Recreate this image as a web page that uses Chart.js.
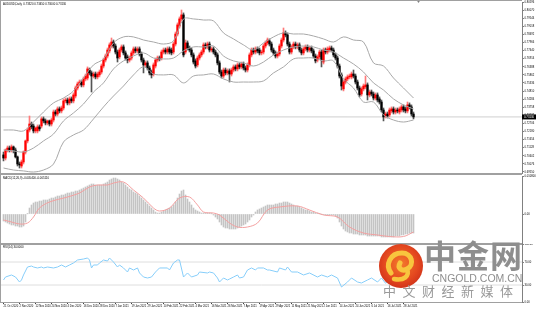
<!DOCTYPE html>
<html>
<head>
<meta charset="utf-8">
<script src="https://cdn.jsdelivr.net/npm/chart.js@4.4.1/dist/chart.umd.min.js"></script>
<style>
  html, body { margin:0; padding:0; background:#fff; }
  #wrap { position:relative; width:536px; height:309px; overflow:hidden; background:#fff; }
  #wrap canvas { position:absolute; left:0; }
  .ln { position:absolute; background:#a0a0a0; }
  .wm { position:absolute; white-space:nowrap; line-height:1; }
</style>
</head>
<body>
<div id="wrap">
  <canvas id="cMain" width="536" height="174" style="top:0;width:536px;height:174px"></canvas>
  <canvas id="cMacd" width="536" height="70" style="top:174px;width:536px;height:70px"></canvas>
  <canvas id="cRsi" width="536" height="65" style="top:244px;width:536px;height:65px"></canvas>
  <div class="ln" style="left:0;top:0;width:522px;height:1px"></div>
  <div class="ln" style="left:0;top:0;width:1px;height:303px"></div>
  <div class="ln" style="left:0;top:173px;width:522px;height:2px"></div>
  <div class="ln" style="left:0;top:243px;width:522px;height:2px"></div>
  <div class="ln" style="left:0;top:302px;width:522px;height:1px"></div>
  <svg style="position:absolute;left:377px;top:242px" width="48" height="48" viewBox="0 0 48 48">
    <defs>
      <radialGradient id="g1" cx="50%" cy="45%" r="55%">
        <stop offset="0%" stop-color="#f47a2c"/>
        <stop offset="70%" stop-color="#e4481f"/>
        <stop offset="100%" stop-color="#d2341a"/>
      </radialGradient>
    </defs>
    <circle cx="24" cy="24" r="22" fill="url(#g1)"/>
    <path d="M14 31 C 8 23, 13 11, 25 11 C 35 11, 38 23, 30 27 C 25 30, 20 26, 23 21" stroke="#f8c53e" stroke-width="5" fill="none" stroke-linecap="round"/>
    <path d="M30 27 C 33 34, 27 39, 17 37" stroke="#f8c53e" stroke-width="4.5" fill="none" stroke-linecap="round"/>
  </svg>
  <div class="wm" style="left:424px;top:238px;font-family:'Noto Sans CJK SC';font-weight:bold;font-size:32px;color:#8e8e8e;letter-spacing:1px">中金网</div>
  <div class="wm" style="left:432px;top:273px;font-family:'Liberation Sans';font-size:10.5px;color:#8e8e8e">CNGOLD.COM.CN</div>
  <div class="wm" style="left:383px;top:284px;font-family:'Noto Sans CJK SC';font-size:13px;color:#9a9a9a;letter-spacing:6.5px">中文财经新媒体</div>
</div>
<script>
// ---------- data ----------
const dateLabels = ["21 Oct 2020","2 Nov 2020","12 Nov 2020","24 Nov 2020","4 Dec 2020","16 Dec 2020","28 Dec 2020","7 Jan 2021","19 Jan 2021","29 Jan 2021","10 Feb 2021","22 Feb 2021","4 Mar 2021","16 Mar 2021","26 Mar 2021","7 Apr 2021","19 Apr 2021","29 Apr 2021","11 May 2021","21 May 2021","2 Jun 2021","14 Jun 2021","24 Jun 2021","6 Jul 2021","16 Jul 2021","28 Jul 2021"];

const openP = [0.7066,0.7046,0.7098,0.7111,0.7098,0.7118,0.7098,0.7053,0.7007,0.6994,
0.7020,0.7085,0.7157,0.7228,0.7267,0.7254,0.7222,0.7222,0.7248,0.7254,
0.7300,0.7287,0.7274,0.7287,0.7267,0.7293,0.7345,0.7332,0.7365,0.7352,
0.7371,0.7417,0.7423,0.7404,0.7430,0.7417,0.7449,0.7501,0.7527,0.7540,
0.7521,0.7560,0.7566,0.7618,0.7599,0.7579,0.7592,0.7573,0.7586,0.7605,
0.7644,0.7683,0.7709,0.7742,0.7774,0.7800,0.7774,0.7735,0.7703,0.7748,
0.7768,0.7729,0.7703,0.7683,0.7696,0.7729,0.7755,0.7742,0.7755,0.7722,
0.7683,0.7651,0.7664,0.7631,0.7605,0.7592,0.7644,0.7683,0.7696,0.7696,
0.7735,0.7748,0.7735,0.7755,0.7748,0.7735,0.7787,0.7852,0.7904,0.7950,
0.7976,0.7735,0.7794,0.7761,0.7748,0.7716,0.7677,0.7651,0.7696,0.7716,
0.7735,0.7781,0.7768,0.7787,0.7748,0.7755,0.7735,0.7716,0.7664,0.7605,
0.7579,0.7618,0.7599,0.7612,0.7592,0.7618,0.7638,0.7625,0.7651,0.7638,
0.7657,0.7631,0.7618,0.7651,0.7716,0.7748,0.7735,0.7755,0.7748,0.7729,
0.7735,0.7774,0.7794,0.7807,0.7787,0.7748,0.7729,0.7709,0.7722,0.7774,
0.7813,0.7859,0.7846,0.7787,0.7735,0.7768,0.7787,0.7768,0.7781,0.7748,
0.7729,0.7755,0.7768,0.7748,0.7761,0.7742,0.7709,0.7683,0.7703,0.7735,
0.7670,0.7748,0.7735,0.7748,0.7761,0.7748,0.7716,0.7696,0.7644,0.7586,
0.7495,0.7540,0.7560,0.7573,0.7573,0.7592,0.7579,0.7540,0.7501,0.7462,
0.7495,0.7508,0.7521,0.7456,0.7475,0.7462,0.7436,0.7456,0.7430,0.7410,
0.7358,0.7319,0.7332,0.7326,0.7352,0.7365,0.7345,0.7358,0.7345,0.7358,
0.7378,0.7365,0.7352,0.7391,0.7378,0.7332];

const highP = [0.7085,0.7105,0.7124,0.7124,0.7131,0.7124,0.7111,0.7059,0.7020,0.7033,
0.7092,0.7163,0.7241,0.7319,0.7280,0.7267,0.7248,0.7261,0.7261,0.7313,
0.7313,0.7300,0.7293,0.7293,0.7306,0.7358,0.7358,0.7378,0.7378,0.7384,
0.7430,0.7436,0.7436,0.7443,0.7443,0.7469,0.7514,0.7540,0.7553,0.7553,
0.7573,0.7592,0.7638,0.7631,0.7612,0.7605,0.7605,0.7605,0.7618,0.7657,
0.7696,0.7722,0.7761,0.7794,0.7826,0.7813,0.7787,0.7748,0.7761,0.7781,
0.7781,0.7742,0.7716,0.7709,0.7742,0.7768,0.7768,0.7768,0.7768,0.7735,
0.7696,0.7677,0.7677,0.7644,0.7618,0.7664,0.7696,0.7709,0.7709,0.7748,
0.7761,0.7761,0.7768,0.7768,0.7761,0.7800,0.7865,0.7924,0.7963,0.8008,
0.7989,0.7813,0.7807,0.7774,0.7761,0.7729,0.7690,0.7709,0.7729,0.7748,
0.7794,0.7794,0.7800,0.7800,0.7768,0.7768,0.7748,0.7729,0.7677,0.7618,
0.7631,0.7631,0.7625,0.7625,0.7631,0.7651,0.7651,0.7664,0.7664,0.7670,
0.7670,0.7644,0.7664,0.7729,0.7761,0.7761,0.7768,0.7768,0.7761,0.7748,
0.7787,0.7807,0.7826,0.7820,0.7800,0.7761,0.7742,0.7735,0.7787,0.7826,
0.7891,0.7872,0.7859,0.7800,0.7781,0.7800,0.7800,0.7794,0.7794,0.7761,
0.7768,0.7781,0.7781,0.7774,0.7774,0.7755,0.7722,0.7716,0.7748,0.7748,
0.7761,0.7761,0.7768,0.7774,0.7774,0.7761,0.7729,0.7709,0.7657,0.7599,
0.7553,0.7573,0.7586,0.7592,0.7605,0.7618,0.7592,0.7553,0.7514,0.7508,
0.7527,0.7579,0.7534,0.7488,0.7488,0.7475,0.7469,0.7469,0.7443,0.7423,
0.7371,0.7345,0.7345,0.7371,0.7378,0.7378,0.7371,0.7371,0.7378,0.7391,
0.7391,0.7378,0.7410,0.7404,0.7391,0.7345];

const lowP = [0.7027,0.7033,0.7085,0.7085,0.7085,0.7079,0.7046,0.6994,0.6981,0.6981,
0.7007,0.7072,0.7144,0.7215,0.7235,0.7209,0.7209,0.7209,0.7222,0.7241,
0.7274,0.7261,0.7261,0.7254,0.7254,0.7280,0.7319,0.7319,0.7339,0.7339,
0.7358,0.7404,0.7391,0.7391,0.7404,0.7404,0.7436,0.7488,0.7514,0.7508,
0.7508,0.7547,0.7553,0.7586,0.7475,0.7566,0.7560,0.7560,0.7573,0.7592,
0.7631,0.7670,0.7696,0.7729,0.7761,0.7761,0.7722,0.7670,0.7690,0.7735,
0.7716,0.7683,0.7664,0.7670,0.7683,0.7716,0.7729,0.7729,0.7709,0.7670,
0.7599,0.7638,0.7618,0.7586,0.7566,0.7579,0.7631,0.7670,0.7677,0.7683,
0.7722,0.7722,0.7722,0.7722,0.7716,0.7722,0.7774,0.7839,0.7891,0.7937,
0.7703,0.7722,0.7748,0.7735,0.7703,0.7657,0.7631,0.7638,0.7683,0.7703,
0.7722,0.7755,0.7755,0.7735,0.7735,0.7722,0.7703,0.7651,0.7592,0.7566,
0.7566,0.7586,0.7586,0.7540,0.7579,0.7605,0.7612,0.7612,0.7625,0.7625,
0.7618,0.7605,0.7605,0.7638,0.7703,0.7722,0.7722,0.7729,0.7716,0.7716,
0.7722,0.7761,0.7781,0.7774,0.7735,0.7716,0.7696,0.7696,0.7709,0.7761,
0.7800,0.7833,0.7774,0.7722,0.7722,0.7755,0.7755,0.7755,0.7735,0.7716,
0.7716,0.7742,0.7735,0.7735,0.7729,0.7696,0.7664,0.7670,0.7690,0.7638,
0.7657,0.7722,0.7722,0.7735,0.7735,0.7703,0.7683,0.7631,0.7566,0.7488,
0.7482,0.7527,0.7547,0.7560,0.7560,0.7566,0.7527,0.7488,0.7443,0.7449,
0.7482,0.7495,0.7423,0.7443,0.7449,0.7423,0.7423,0.7410,0.7397,0.7345,
0.7287,0.7306,0.7306,0.7313,0.7339,0.7332,0.7332,0.7339,0.7332,0.7345,
0.7345,0.7339,0.7339,0.7365,0.7319,0.7300];

const closeP = [0.7046,0.7098,0.7111,0.7098,0.7118,0.7098,0.7053,0.7007,0.7001,0.7020,
0.7085,0.7157,0.7228,0.7267,0.7248,0.7222,0.7241,0.7248,0.7235,0.7300,
0.7287,0.7274,0.7287,0.7267,0.7293,0.7345,0.7332,0.7365,0.7352,0.7371,
0.7417,0.7423,0.7404,0.7430,0.7417,0.7456,0.7501,0.7527,0.7540,0.7521,
0.7560,0.7579,0.7625,0.7599,0.7579,0.7592,0.7573,0.7592,0.7605,0.7644,
0.7683,0.7709,0.7748,0.7781,0.7800,0.7774,0.7735,0.7696,0.7748,0.7768,
0.7729,0.7696,0.7683,0.7696,0.7729,0.7755,0.7742,0.7755,0.7722,0.7683,
0.7651,0.7664,0.7631,0.7599,0.7586,0.7651,0.7683,0.7696,0.7690,0.7735,
0.7748,0.7735,0.7755,0.7735,0.7729,0.7787,0.7852,0.7911,0.7950,0.7976,
0.7716,0.7794,0.7761,0.7748,0.7716,0.7670,0.7644,0.7696,0.7716,0.7735,
0.7781,0.7768,0.7787,0.7748,0.7755,0.7735,0.7716,0.7664,0.7605,0.7579,
0.7618,0.7599,0.7612,0.7592,0.7618,0.7638,0.7625,0.7651,0.7638,0.7657,
0.7631,0.7618,0.7651,0.7716,0.7748,0.7735,0.7755,0.7742,0.7729,0.7735,
0.7774,0.7794,0.7813,0.7787,0.7748,0.7729,0.7709,0.7722,0.7774,0.7813,
0.7859,0.7846,0.7787,0.7735,0.7768,0.7787,0.7768,0.7781,0.7748,0.7729,
0.7755,0.7768,0.7748,0.7761,0.7742,0.7709,0.7677,0.7703,0.7735,0.7683,
0.7748,0.7735,0.7755,0.7761,0.7748,0.7716,0.7696,0.7644,0.7579,0.7514,
0.7540,0.7560,0.7573,0.7579,0.7592,0.7579,0.7540,0.7501,0.7456,0.7495,
0.7514,0.7521,0.7456,0.7475,0.7462,0.7436,0.7456,0.7423,0.7410,0.7358,
0.7313,0.7332,0.7319,0.7358,0.7365,0.7345,0.7358,0.7352,0.7365,0.7378,
0.7358,0.7352,0.7391,0.7378,0.7332,0.7313];

// Bollinger bands (20,2) read every 5 bars
const bandIdx = [0,5,10,15,20,25,30,35,40,45,50,55,60,65,70,75,80,85,90,95,100,105,110,115,120,125,130,135,140,145,150,155,160,165,170,175,180,185,190,195,200,205];
const bbUpper = [0.7228,0.7228,0.7222,0.7280,0.7345,0.7404,0.7436,0.7482,0.7566,0.7651,0.7690,0.7794,0.7833,0.7833,0.7813,0.7800,0.7787,0.7807,0.7950,0.7950,0.7943,0.7937,0.7859,0.7820,0.7781,0.7748,0.7794,0.7833,0.7859,0.7852,0.7852,0.7839,0.7820,0.7800,0.7833,0.7813,0.7800,0.7664,0.7644,0.7566,0.7501,0.7436];
const bbMiddle = [0.7098,0.7092,0.7085,0.7111,0.7157,0.7202,0.7287,0.7339,0.7397,0.7475,0.7534,0.7625,0.7677,0.7709,0.7729,0.7696,0.7690,0.7696,0.7742,0.7768,0.7768,0.7774,0.7709,0.7677,0.7664,0.7644,0.7670,0.7716,0.7748,0.7768,0.7774,0.7768,0.7748,0.7735,0.7696,0.7657,0.7605,0.7534,0.7488,0.7430,0.7391,0.7365];
const bbLower = [0.6981,0.6968,0.6962,0.6955,0.6968,0.7007,0.7150,0.7196,0.7228,0.7300,0.7378,0.7449,0.7514,0.7586,0.7638,0.7592,0.7586,0.7586,0.7534,0.7579,0.7586,0.7592,0.7560,0.7540,0.7540,0.7540,0.7547,0.7599,0.7638,0.7690,0.7696,0.7696,0.7677,0.7677,0.7560,0.7501,0.7410,0.7410,0.7326,0.7293,0.7280,0.7293];

// MACD(12,26,9): main (histogram) per bar, signal read at sample bars
const macdMain = [-0.00199,-0.00227,-0.00256,-0.00284,-0.00312,-0.00312,-0.00341,-0.00341,-0.00369,-0.00369,
-0.00341,-0.00227,0.00005,0.00170,0.00256,0.00312,0.00341,0.00341,0.00369,0.00369,
0.00398,0.00398,0.00398,0.00426,0.00454,0.00454,0.00483,0.00511,0.00511,0.00540,
0.00540,0.00568,0.00596,0.00596,0.00625,0.00625,0.00653,0.00653,0.00682,0.00710,
0.00738,0.00767,0.00795,0.00824,0.00852,0.00852,0.00824,0.00824,0.00824,0.00824,
0.00852,0.00880,0.00909,0.00966,0.00994,0.01022,0.01022,0.00994,0.00966,0.00909,
0.00880,0.00824,0.00767,0.00710,0.00682,0.00625,0.00596,0.00568,0.00511,0.00454,
0.00398,0.00341,0.00284,0.00227,0.00170,0.00114,0.00057,0.00028,0.00028,0.00057,
0.00085,0.00114,0.00142,0.00170,0.00199,0.00256,0.00341,0.00454,0.00568,0.00653,
0.00682,0.00540,0.00426,0.00341,0.00256,0.00170,0.00114,0.00085,0.00057,0.00028,
0.00028,0.00028,0.00028,0.00028,0.00005,-0.00028,-0.00085,-0.00142,-0.00227,-0.00312,
-0.00369,-0.00398,-0.00398,-0.00426,-0.00426,-0.00426,-0.00426,-0.00398,-0.00369,-0.00341,
-0.00312,-0.00284,-0.00227,-0.00170,-0.00085,-0.00028,0.00057,0.00114,0.00142,0.00170,
0.00199,0.00227,0.00256,0.00256,0.00256,0.00256,0.00284,0.00284,0.00312,0.00312,
0.00341,0.00341,0.00341,0.00312,0.00284,0.00256,0.00227,0.00227,0.00199,0.00170,
0.00142,0.00114,0.00114,0.00085,0.00057,0.00057,0.00028,0.00028,0.00005,-0.00005,
-0.00010,-0.00010,-0.00028,-0.00028,-0.00028,-0.00028,-0.00057,-0.00114,-0.00227,-0.00341,
-0.00426,-0.00483,-0.00511,-0.00540,-0.00540,-0.00568,-0.00568,-0.00568,-0.00596,-0.00596,
-0.00596,-0.00596,-0.00625,-0.00625,-0.00625,-0.00625,-0.00625,-0.00625,-0.00625,-0.00653,
-0.00653,-0.00653,-0.00653,-0.00653,-0.00653,-0.00653,-0.00625,-0.00625,-0.00625,-0.00596,
-0.00596,-0.00568,-0.00568,-0.00540,-0.00540,-0.00540];
const sigIdx = [0,4,8,12,15,18,23,32,38,43,47,52,55,60,65,70,75,78,83,88,93,97,100,105,108,113,117,122,127,132,138,147,153,160,167,173,180,187,193,200,205];
const sigVal = [-0.00170,-0.00227,-0.00284,-0.00256,-0.00085,0.00170,0.00341,0.00483,0.00596,0.00767,0.00824,0.00824,0.00880,0.00909,0.00682,0.00454,0.00170,0.00085,0.00170,0.00454,0.00483,0.00256,0.00057,0.00028,-0.00028,-0.00256,-0.00369,-0.00369,-0.00256,0.00114,0.00199,0.00227,0.00114,-0.00028,-0.00085,-0.00369,-0.00540,-0.00596,-0.00640,-0.00640,-0.00511];

// RSI(14) read at sample bars
const rsiIdx = [0,1,4,6,8,9,10,12,14,15,17,19,20,22,25,27,29,31,33,35,37,40,42,43,44,45,47,48,50,52,53,55,57,58,60,62,63,65,67,68,70,72,74,76,78,82,83,85,87,88,90,92,94,97,98,102,103,105,107,108,110,112,113,115,117,118,120,122,124,126,127,130,132,133,137,138,141,142,144,147,150,153,157,159,162,164,167,169,172,174,177,179,182,184,187,189,191,193,195,197,199,201,203,205];
const rsiVal = [38.7,43.9,47.4,43.9,35.2,38.7,47.4,61.3,63.0,61.3,
59.6,61.3,59.6,61.3,59.6,61.3,64.8,61.3,64.8,68.3,
73.5,75.2,77.0,73.5,59.6,64.8,64.8,68.3,73.5,71.7,
77.0,70.0,61.3,64.8,59.6,52.6,59.6,56.1,59.6,50.9,
43.9,42.2,43.9,52.6,59.6,59.6,56.1,68.3,73.5,73.5,
43.9,50.9,43.9,47.4,52.6,50.9,52.6,50.9,42.2,35.2,
42.2,38.7,40.4,43.9,47.4,42.2,43.9,56.1,59.6,56.1,
59.6,59.6,56.1,56.1,52.6,59.6,56.1,61.3,52.6,52.6,
47.4,50.9,43.9,47.4,43.9,47.4,42.2,26.5,35.2,42.2,
35.2,33.5,38.7,42.2,35.2,42.2,33.0,38.0,36.5,41.0,
39.0,43.0,41.0,34.0];
const rsiLevels = [70, 30];

// axis tick labels
const priceTicks = [0.69550,0.70076,0.70602,0.71128,0.71654,0.72180,0.72706,0.73232,0.73758,0.74284,0.74810,0.75336,0.75862,0.76388,0.76914,0.77440,0.77966,0.78492,0.79018,0.79544,0.80070,0.80596];
const macdTicks = [0.0108, 0];
const rsiTicks = [100, 70, 30, 0];

// ---------- rendering ----------
Chart.defaults.font.family = "'Liberation Sans', Arial, sans-serif";
const X_MIN = -1.25, X_MAX = 259.25;
const N = closeP.length;
const lastClose = closeP[N - 1];
const isUp = closeP.map((c, i) => c >= openP[i]);
const pts = (idx, vals) => vals.map((v, k) => ({ x: idx[k], y: v }));

function xHidden() {
  return { type: 'linear', min: X_MIN, max: X_MAX, offset: false, display: false };
}
function yAxis(min, max, ticks, fmt) {
  return {
    position: 'right', min, max,
    afterFit(s) { s.width = 14; s.paddingTop = 0; s.paddingBottom = 0; },
    afterBuildTicks(s) { s.ticks = ticks.map(v => ({ value: v })); },
    ticks: { autoSkip: false, font: { size: 2.7 }, color: '#000', padding: 1, callback: fmt },
    grid: { display: true, drawOnChartArea: false, drawTicks: true, tickLength: 1.5, color: '#000' },
    border: { display: true, color: '#808080', width: 1 }
  };
}
function paneLabel(id, text, x, y) {
  return {
    id,
    afterDraw(chart) {
      const ctx = chart.ctx;
      ctx.save();
      ctx.font = "2.8px 'Liberation Sans', Arial, sans-serif";
      ctx.fillStyle = '#000';
      ctx.textBaseline = 'middle';
      ctx.textAlign = 'left';
      ctx.fillText(text, x, y);
      ctx.restore();
    }
  };
}
const baseOpts = {
  responsive: false, animation: false, devicePixelRatio: 1, events: [],
  plugins: { legend: { display: false }, tooltip: { enabled: false } }
};

// main price pane
new Chart(document.getElementById('cMain'), {
  type: 'bar',
  data: {
    datasets: [
      { type: 'line', data: pts(bandIdx, bbUpper), borderColor: '#a8a8a8', borderWidth: 1, pointRadius: 0, tension: 0.35, order: 0 },
      { type: 'line', data: pts(bandIdx, bbMiddle), borderColor: '#a8a8a8', borderWidth: 1, pointRadius: 0, tension: 0.35, order: 0 },
      { type: 'line', data: pts(bandIdx, bbLower), borderColor: '#a8a8a8', borderWidth: 1, pointRadius: 0, tension: 0.35, order: 0 },
      { type: 'line', data: [{ x: X_MIN, y: lastClose }, { x: X_MAX, y: lastClose }], borderColor: '#cfcfcf', borderWidth: 1, pointRadius: 0, order: 5 },
      { type: 'bar', data: openP.map((o, i) => ({ x: i, y: [lowP[i], highP[i]] })), backgroundColor: isUp.map(u => u ? '#ff7a7a' : '#555555'), barThickness: 1, grouped: false, order: 2 },
      { type: 'bar', data: openP.map((o, i) => ({ x: i, y: [o, closeP[i]] })), backgroundColor: isUp.map(u => u ? '#ff0000' : '#000000'), barThickness: 1.6, grouped: false, order: 1 }
    ]
  },
  options: Object.assign({}, baseOpts, {
    layout: { padding: { left: 1, right: 0, top: 2, bottom: 1 } },
    scales: { x: xHidden(), y: yAxis(0.69485, 0.8060, priceTicks, v => v.toFixed(5)) }
  }),
  plugins: [
    paneLabel('lblMain', 'AUDUSD,Daily  ' + openP[N-1].toFixed(5) + ' ' + highP[N-1].toFixed(5) + ' ' + lowP[N-1].toFixed(5) + ' ' + lastClose.toFixed(5), 3, 4),
    {
      id: 'priceBox',
      afterDraw(chart) {
        const ctx = chart.ctx;
        const y = chart.scales.y.getPixelForValue(lastClose);
        ctx.save();
        ctx.fillStyle = '#000';
        ctx.fillRect(522, y - 2.5, 14, 5);
        ctx.fillStyle = '#fff';
        ctx.font = "2.8px 'Liberation Sans', Arial, sans-serif";
        ctx.textBaseline = 'middle';
        ctx.fillText(lastClose.toFixed(5), 524, y);
        // chart-shift marker at the top edge
        const sx = chart.scales.x.getPixelForValue(N + 1.5);
        ctx.fillStyle = '#808080';
        ctx.beginPath();
        ctx.moveTo(sx - 2, 0); ctx.lineTo(sx + 2, 0); ctx.lineTo(sx, 3); ctx.closePath();
        ctx.fill();
        ctx.restore();
      }
    }
  ]
});

// MACD pane
new Chart(document.getElementById('cMacd'), {
  type: 'bar',
  data: {
    datasets: [
      { type: 'line', data: pts(sigIdx, sigVal), borderColor: '#f3a0a0', borderWidth: 1, pointRadius: 0, tension: 0.35, order: 0 },
      { type: 'bar', data: macdMain.map((v, i) => ({ x: i, y: v })), backgroundColor: '#c4c4c4', barThickness: 1, grouped: false, order: 1 }
    ]
  },
  options: Object.assign({}, baseOpts, {
    layout: { padding: { left: 1, right: 0, top: 2, bottom: 1 } },
    scales: { x: xHidden(), y: yAxis(-0.00824, 0.0108, macdTicks, v => v === 0 ? '0.00' : v.toFixed(6)) }
  }),
  plugins: [paneLabel('lblMacd', 'MACD(12,26,9) ' + macdMain[N-1].toFixed(6) + ' ' + sigVal[sigVal.length-1].toFixed(6), 3, 4)]
});

// RSI pane
new Chart(document.getElementById('cRsi'), {
  type: 'line',
  data: {
    datasets: [
      { data: [{ x: X_MIN, y: rsiLevels[0] }, { x: X_MAX, y: rsiLevels[0] }], borderColor: '#dedede', borderWidth: 1, pointRadius: 0, order: 2 },
      { data: [{ x: X_MIN, y: rsiLevels[1] }, { x: X_MAX, y: rsiLevels[1] }], borderColor: '#dedede', borderWidth: 1, pointRadius: 0, order: 2 },
      { data: pts(rsiIdx, rsiVal), borderColor: '#87cefa', borderWidth: 1, pointRadius: 0, tension: 0, order: 0 }
    ]
  },
  options: Object.assign({}, baseOpts, {
    layout: { padding: { left: 1, right: 0, top: 0.75, bottom: 0 } },
    scales: {
      x: {
        type: 'linear', min: X_MIN, max: X_MAX, offset: false, display: true, position: 'bottom',
        afterBuildTicks(s) { s.ticks = dateLabels.map((_, k) => ({ value: k * 8 })); },
        afterFit(s) { s.height = 6.75; s.paddingLeft = 0; s.paddingRight = 0; },
        ticks: { autoSkip: false, maxRotation: 0, minRotation: 0, align: 'start', font: { size: 2.7 }, color: '#000', padding: 1,
                 callback: v => dateLabels[Math.round(v / 8)] },
        grid: { display: true, drawOnChartArea: false, drawTicks: true, tickLength: 1.5, color: '#000' },
        border: { display: false }
      },
      y: yAxis(0, 100, rsiTicks, v => v.toFixed(2))
    }
  }),
  plugins: [paneLabel('lblRsi', 'RSI(14) ' + rsiVal[rsiVal.length-1].toFixed(4), 3, 3.5)]
});
</script>
</body>
</html>
